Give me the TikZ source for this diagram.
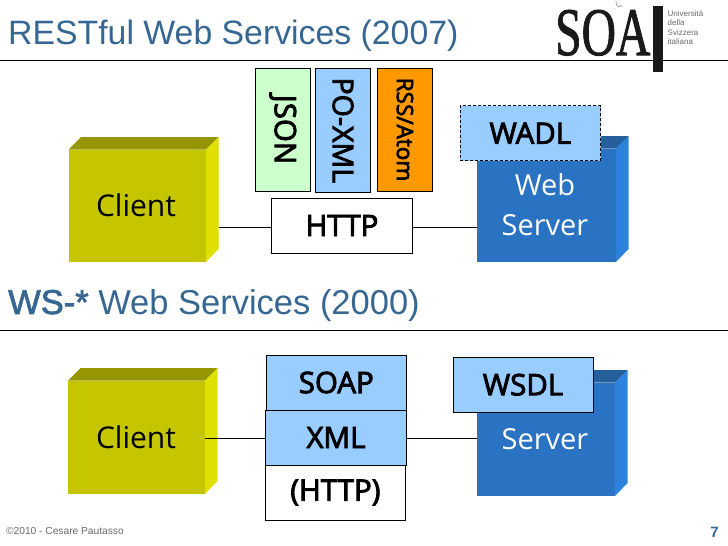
\documentclass[tikz,border=0pt]{standalone}
\usepackage{fontspec}
\setmainfont{Liberation Sans}
\newfontfamily\boldfake[FakeBold=2]{Liberation Sans}
\newfontfamily\layerfont[FakeBold=3]{Open Sans}
\newfontfamily\boxfont{Open Sans}
\newfontfamily\logofont[FakeBold=1.5]{Liberation Serif}
\usetikzlibrary{arrows.meta, positioning, calc}
\definecolor{ink}{HTML}{000000}
\definecolor{logoink}{HTML}{1A1A1A}
\definecolor{heading}{HTML}{366792}
\definecolor{muted}{HTML}{6B6B6B}
\definecolor{clientfront}{HTML}{C6C600}
\definecolor{clienttop}{HTML}{969600}
\definecolor{clientside}{HTML}{E0E000}
\definecolor{serverfront}{HTML}{2A72C2}
\definecolor{servertop}{HTML}{255F9C}
\definecolor{serverside}{HTML}{2C82DC}
\definecolor{sky}{HTML}{99CCFF}
\definecolor{mint}{HTML}{CCFFCC}
\definecolor{amber}{HTML}{FF9900}
\tikzset{
  title/.style={font=\fontsize{33.8}{36}\selectfont, text=heading, anchor=base west, inner sep=0pt},
  %
  layer/.style={draw=ink, line width=0.9pt, align=center, inner sep=0pt,
                font=\layerfont\fontsize{29.5}{30}\selectfont, text=ink},
  layerw/.style={layer, fill=white},
  layers/.style={layer, fill=sky},
  layerm/.style={layer, fill=mint},
  layera/.style={layer, fill=amber},
  %
  upright/.style={minimum width=141pt, minimum height=55pt},
  sideways/.style={minimum width=123pt, minimum height=55pt, rotate=-90},
  %
  boxlbl/.style={font=\boxfont\fontsize{30}{40}\selectfont, align=center, inner sep=0pt},
  serverlbl/.style={boxlbl, font=\boxfont\fontsize{29}{40}\selectfont, text=white},
  wire/.style={draw=ink, line width=0.8pt},
  rule/.style={draw=ink, line width=0.9pt},
  note/.style={font=\fontsize{10.2}{12}\selectfont, text=muted, anchor=base west, inner sep=0pt},
}
% left, top of front face, width, height, front, top face, side face, name
\newcommand{\cube}[8]{%
  \fill[#6] (#1,#2) -- (#1+12.5,#2-12.5) -- (#1+#3+12.5,#2-12.5) -- (#1+#3,#2) -- cycle;
  \fill[#7] (#1+#3,#2) -- (#1+#3+12.5,#2-12.5) -- (#1+#3+12.5,#2+#4-13) -- (#1+#3,#2+#4) -- cycle;
  \node[fill=#5, minimum width=#3pt, minimum height=#4pt, anchor=north west, inner sep=0pt, outer sep=0pt] (#8) at (#1,#2) {};
}
\begin{document}
\begin{tikzpicture}[x=1pt, y=-1pt]
  \useasboundingbox (0,0) rectangle (728,546);

  % --- headings ---
  \node[title] (resttitle) at (8,44) {RESTful Web Services (2007)};
  \node[title, font=\fontsize{34.5}{36}\selectfont] (wstitle) at (8,314) {{\boldfake WS-*} Web Services (2000)};
  \coordinate (ruleaw) at (0,60);
  \coordinate (ruleae) at (728,60);
  \coordinate (rulebw) at (0,330.5);
  \coordinate (rulebe) at (728,330.5);
  \draw[rule] (ruleaw) -- (ruleae);
  \draw[rule] (rulebw) -- (rulebe);

  % --- logo ---
  \node[font=\logofont\fontsize{68}{68}\selectfont, text=logoink, anchor=base west, inner sep=0pt, xscale=0.7] (logo) at (555,55) {SOA};
  \draw[muted, line width=0.4pt] (616,0) .. controls (615,6) and (619,9) .. (622,5);
  \fill[logoink] (652.7,6) rectangle (662.7,72);
  \node[font=\fontsize{8}{9.6}\selectfont, text=muted, anchor=north west, align=left, inner sep=0pt] (uni) at (667.5,10) {Università\\della\\Svizzera\\italiana};

  % --- top diagram ---
  \cube{68.5}{149.5}{137.5}{112.5}{clientfront}{clienttop}{clientside}{clienta}
  \cube{476.5}{148.5}{139.5}{113.5}{serverfront}{servertop}{serverside}{servera}
  \node[layerw, upright] (http) at (342,225.5) {HTTP};
  \coordinate (clientaside) at ([xshift=12.5pt]clienta.east |- 0,227.5);
  \draw[wire] (clientaside) -- (clientaside -| http.west);
  \draw[wire] (clientaside -| http.east) -- (clientaside -| servera.west);
  \node[boxlbl] (clientlbla) at (136,205) {Client};
  \node[serverlbl] (serverlbla) at (545,205) {Web\\Server};
  \node[layerm, sideways] (json) at (282.75,129.5) {JSON};
  \node[layers, sideways, minimum width=124.5pt, font=\layerfont\fontsize{28.5}{30}\selectfont] (poxml) at (343,130.25) {PO-XML};
  \node[layera, sideways, font=\layerfont\fontsize{22.5}{24}\selectfont] (rss) at (405,129.5) {RSS/Atom};
  \node[layers, upright, minimum width=140.5pt, dash pattern=on 3pt off 2pt] (wadl) at (530.3,133.2) {WADL};

  % --- bottom diagram ---
  \cube{68}{380.7}{137}{113.3}{clientfront}{clienttop}{clientside}{clientb}
  \cube{476.8}{382.7}{138.2}{113.3}{serverfront}{servertop}{serverside}{serverb}
  \node[layerw, upright, minimum width=139.8pt] (httpb) at (335.4,492.5) {(HTTP)};
  \node[layers, upright] (xml) at (336,437.5) {XML};
  \node[layers, upright, minimum width=139.5pt] (soap) at (336.25,382.5) {SOAP};
  \node[layers, upright, minimum width=140pt] (wsdl) at (523,384.7) {WSDL};
  \coordinate (clientbedge) at (clientb.east |- 0,438.3);
  \draw[wire] (clientbedge) -- (clientbedge -| xml.west);
  \draw[wire] (clientbedge -| xml.east) -- (clientbedge -| serverb.west);
  \node[boxlbl] (clientlblb) at (136,437) {Client};
  \node[serverlbl] (serverlblb) at (545,439) {Server};

  % --- footer ---
  \node[note] (copyright) at (6,534) {©2010 - Cesare Pautasso};
  \node[font=\bfseries\fontsize{15}{18}\selectfont, text=heading, anchor=base east, inner sep=0pt] (pagenum) at (719,537) {7};
\end{tikzpicture}
\end{document}
